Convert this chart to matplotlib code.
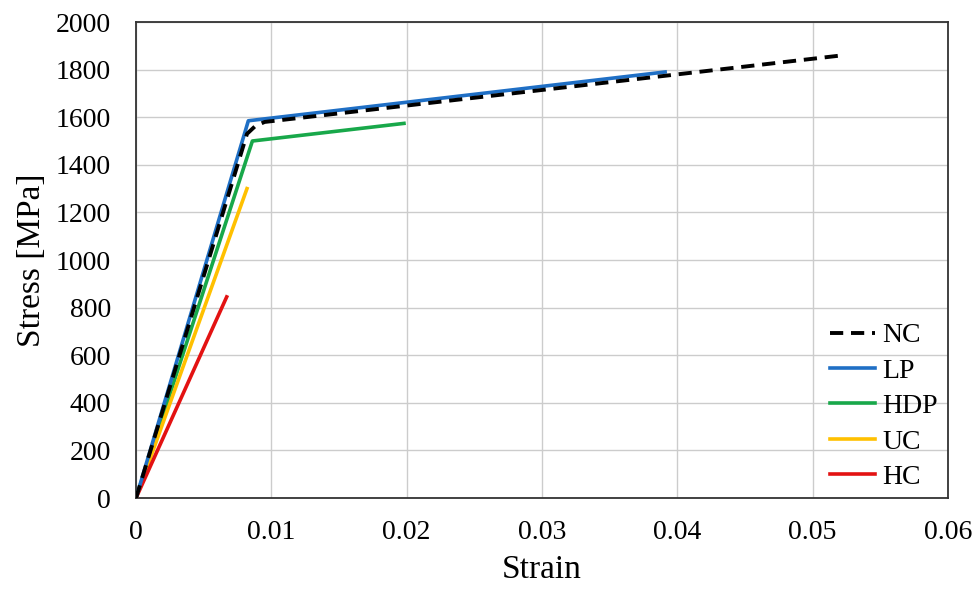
import numpy as np
import matplotlib.pyplot as plt

plt.rcParams['font.family'] = ['Liberation Serif', 'DejaVu Serif']

# 応力-ひずみ曲線
nc_strain = [0, 0.0082, 0.0088, 0.0095, 0.0522]
nc_stress = [0, 1530, 1562, 1580, 1860]

lp_strain = [0, 0.0083, 0.0391]
lp_stress = [0, 1585, 1790]

hdp_strain = [0, 0.0086, 0.0198]
hdp_stress = [0, 1500, 1574]

uc_strain = [0, 0.0082]
uc_stress = [0, 1300]

hc_strain = [0, 0.0067]
hc_stress = [0, 845]

x_ticks = [0, 0.01, 0.02, 0.03, 0.04, 0.05, 0.06]
x_labels = ["0", "0.01", "0.02", "0.03", "0.04", "0.05", "0.06"]
y_ticks = np.arange(0, 2001, 200)

fig = plt.figure(figsize=(9.8, 5.93), dpi=100)
ax = fig.add_axes([0.1388, 0.1602, 0.8285, 0.8027])

lw = 2.6
ax.plot(nc_strain, nc_stress, color='black', lw=2.8, ls=(0, (3.4, 2.0)), label='NC', zorder=5)
ax.plot(lp_strain, lp_stress, color='#1f6fc5', lw=lw, label='LP', zorder=4)
ax.plot(hdp_strain, hdp_stress, color='#18a84a', lw=lw, label='HDP', zorder=3)
ax.plot(uc_strain, uc_stress, color='#ffc000', lw=lw, label='UC', zorder=3)
ax.plot(hc_strain, hc_stress, color='#e31212', lw=lw, label='HC', zorder=3)

ax.set_xlim(0, 0.06)
ax.set_ylim(0, 2000)
ax.set_xticks(x_ticks)
ax.set_xticklabels(x_labels)
ax.set_yticks(y_ticks)
ax.tick_params(length=0, labelsize=20)
ax.tick_params(axis='y', pad=18)
ax.tick_params(axis='x', pad=16)
ax.grid(color='#cccccc', lw=1.0)
ax.set_axisbelow(True)
for s in ax.spines.values():
    s.set_color('#333333')
    s.set_linewidth(1.3)

ax.set_xlabel("Strain", fontsize=24, labelpad=7)
ax.set_ylabel("Stress [MPa]", fontsize=24, labelpad=6)

ax.legend(loc='lower right', frameon=False, fontsize=20, handlelength=1.65,
          handletextpad=0.25, labelspacing=0.36, borderaxespad=0.4,
          bbox_to_anchor=(1.015, -0.03))

fig.savefig("out.png", dpi=100)
